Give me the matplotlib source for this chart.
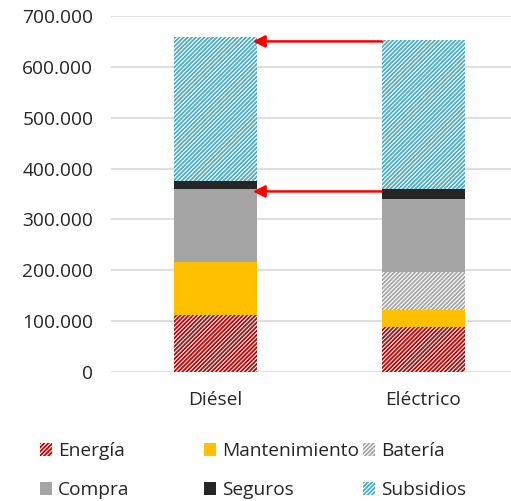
import matplotlib.pyplot as plt
from matplotlib.patches import Patch
from matplotlib.ticker import FuncFormatter

# Data
# ------------------------------------------------------------------------------------------
categories = ['Diésel', 'Eléctrico']
series = ['Energía', 'Mantenimiento', 'Batería', 'Compra', 'Seguros', 'Subsidios']
energia = [112000, 89000]
mantenimiento = [105000, 32000]
bateria = [0, 76000]
compra = [143000, 143000]
seguros = [15000, 20000]
subsidios = [283000, 292000]
arrow_levels = [650000, 355000]
yticks = [0, 100000, 200000, 300000, 400000, 500000, 600000, 700000]

# Styles
# ------------------------------------------------------------------------------------------
stripes = '/' * 8
styles = {
    'Energía':       dict(color='white', edgecolor='#c00000', hatch=stripes),
    'Mantenimiento': dict(color='#ffc000', edgecolor='#ffc000', hatch=None),
    'Batería':       dict(color='white', edgecolor='#a6a6a6', hatch=stripes),
    'Compra':        dict(color='#a5a5a5', edgecolor='#a5a5a5', hatch=None),
    'Seguros':       dict(color='#262626', edgecolor='#262626', hatch=None),
    'Subsidios':     dict(color='white', edgecolor='#4bacc6', hatch=stripes),
}

plt.rcParams['font.family'] = ['Open Sans', 'DejaVu Sans']
plt.rcParams['hatch.linewidth'] = 1.3

fig = plt.figure(figsize=(5.11, 5.01), dpi=100)
ax = fig.add_axes([0.218, 0.2575, 0.814, 0.7106])

x = list(range(len(categories)))
width = 0.4
values = [energia, mantenimiento, bateria, compra, seguros, subsidios]
bottom = [0, 0]
for name, vals in zip(series, values):
    st = styles[name]
    ax.bar(x, vals, width, bottom=bottom, color=st['color'], edgecolor=st['edgecolor'],
           hatch=st['hatch'], linewidth=0, label=name, zorder=3)
    bottom = [b + v for b, v in zip(bottom, vals)]

# arrows from the electric bar to the diesel bar
for lvl in arrow_levels:
    ax.annotate('', xy=(x[0] + width / 2 - 0.02, lvl), xytext=(x[1] - width / 2, lvl),
                arrowprops=dict(arrowstyle='-|>', color='#ff0000', lw=1.8,
                                mutation_scale=18, shrinkA=0, shrinkB=0), zorder=4)

ax.set_xlim(-0.5, 1.5)
ax.set_ylim(0, 700000)
ax.set_yticks(yticks)
ax.yaxis.set_major_formatter(FuncFormatter(lambda v, p: f'{int(v):,}'.replace(',', '.')))
ax.set_xticks(x)
ax.set_xticklabels(categories)
ax.tick_params(axis='both', length=0, labelsize=13.8, colors='#262626', pad=13)
ax.tick_params(axis='x', pad=14)
ax.grid(axis='y', color='#d9d9d9', linewidth=1.2, zorder=0)
for s in ax.spines.values():
    s.set_visible(False)

# legend: three columns, each placed separately (Excel-like even columns)
columns = [['Energía', 'Compra'], ['Mantenimiento', 'Seguros'], ['Batería', 'Subsidios']]
col_x = [40, 204, 363]
for names, cx in zip(columns, col_x):
    handles = [Patch(facecolor=styles[n]['color'], edgecolor=styles[n]['edgecolor'],
                     hatch=styles[n]['hatch'], linewidth=0, label=n) for n in names]
    fig.legend(handles=handles, loc='center left', bbox_to_anchor=(cx / 511, 1 - 470.5 / 501),
               frameon=False, fontsize=13.8, handlelength=0.65, handleheight=0.65,
               handletextpad=0.3, labelspacing=1.1, borderpad=0, borderaxespad=0,
               labelcolor='#262626')

plt.savefig('out.png', dpi=100)
plt.close(fig)
